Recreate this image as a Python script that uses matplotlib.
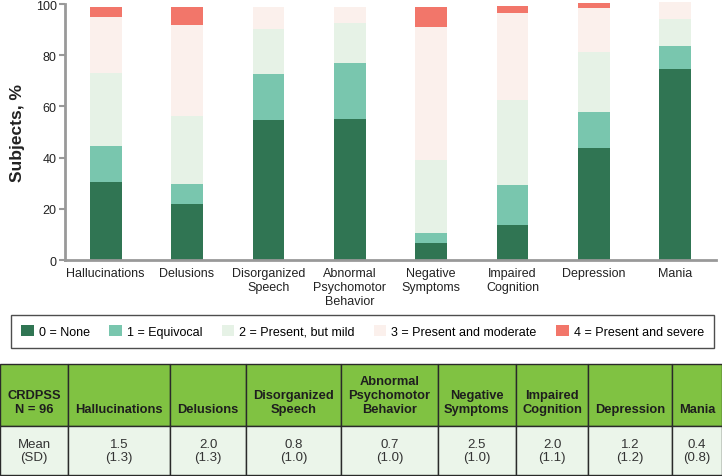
import numpy as np
import matplotlib
matplotlib.use("Agg")
import matplotlib.pyplot as plt
from matplotlib.patches import Patch

plt.rcParams['font.family'] = ['Liberation Sans', 'DejaVu Sans']

# Data
categories = ["Hallucinations", "Delusions", "Disorganized\nSpeech",
              "Abnormal\nPsychomotor\nBehavior", "Negative\nSymptoms",
              "Impaired\nCognition", "Depression", "Mania"]
score_labels = ["0 = None", "1 = Equivocal", "2 = Present, but mild",
                "3 = Present and moderate", "4 = Present and severe"]
none_pct = [30.6, 22.0, 54.7, 55.1, 6.6, 13.7, 43.8, 74.6]
equivocal_pct = [13.9, 7.7, 17.8, 21.9, 3.9, 15.6, 14.1, 9.0]
mild_pct = [28.5, 26.4, 17.6, 15.6, 28.6, 33.2, 23.4, 10.5]
moderate_pct = [21.9, 35.7, 8.7, 6.2, 51.9, 34.0, 17.2, 6.7]
severe_pct = [3.9, 7.0, 0.0, 0.0, 7.8, 2.7, 2.0, 0.0]

table_header = ["CRDPSS\nN = 96", "Hallucinations", "Delusions",
                "Disorganized\nSpeech", "Abnormal\nPsychomotor\nBehavior",
                "Negative\nSymptoms", "Impaired\nCognition", "Depression", "Mania"]
table_means = ["1.5", "2.0", "0.8", "0.7", "2.5", "2.0", "1.2", "0.4"]
table_sds = ["1.3", "1.3", "1.0", "1.0", "1.0", "1.1", "1.2", "0.8"]

colors = ["#307553", "#79C6AE", "#E6F2E6", "#FBF0EC", "#F2766A"]

fig = plt.figure(figsize=(7.22, 4.77), dpi=100)
W, H = 722, 477

# --- stacked bar chart ---
ax = fig.add_axes([65 / W, (H - 261) / H, 651 / W, 256 / H])
x = np.arange(len(categories))
bottom = np.zeros(len(categories))
series = [none_pct, equivocal_pct, mild_pct, moderate_pct, severe_pct]
for vals, col in zip(series, colors):
    ax.bar(x, vals, bottom=bottom, width=0.39, color=col, clip_on=False, zorder=2)
    bottom += np.array(vals)

ax.set_xlim(-0.5, 7.5)
ax.set_ylim(0, 100)
ax.set_yticks(range(0, 101, 20))
ax.set_xticks(x)
ax.set_xticklabels(categories, fontsize=9, color="#222222", linespacing=1.25)
ax.tick_params(axis="x", length=0, pad=5)
ax.tick_params(axis="y", length=4, width=1.5, color="#999999", labelsize=9,
               labelcolor="#222222", pad=2)
for s in ["top", "right"]:
    ax.spines[s].set_visible(False)
for s in ["left", "bottom"]:
    ax.spines[s].set_color("#999999")
    ax.spines[s].set_linewidth(2)
    ax.spines[s].set_zorder(3)
ax.set_ylabel("Subjects, %", fontsize=12.5, fontweight="bold", color="#222222", labelpad=8)

# --- legend ---
handles = [Patch(facecolor=c, edgecolor="none") for c in colors]
leg = fig.legend(handles, score_labels, ncol=5, loc="center",
                 bbox_to_anchor=(362.5 / W, (H - 332.5) / H), fontsize=9,
                 frameon=True, fancybox=False, edgecolor="#222222",
                 handlelength=1.0, handleheight=0.9, handletextpad=0.4,
                 columnspacing=1.55, borderpad=0.8, borderaxespad=0)
leg.get_frame().set_linewidth(1.0)

# --- summary table ---
tax = fig.add_axes([0, 1 / H, 1, 111 / H])
tax.axis("off")
n_lines = 3
header_cells = ["\n" * (n_lines - 1 - h.count("\n")) + h for h in table_header]
data_cells = ["Mean\n(SD)"] + [f"{m}\n({s})" for m, s in zip(table_means, table_sds)]
col_px = [68, 102, 75.6, 95.4, 96, 78, 72.5, 83.5, 50]
col_w = [c / sum(col_px) for c in col_px]
tbl = tax.table(cellText=[data_cells], colLabels=header_cells, colWidths=col_w,
                cellLoc="center", bbox=[0, 0, 1, 1])
tbl.auto_set_font_size(False)
for (r, c), cell in tbl.get_celld().items():
    cell.set_edgecolor("#2A2A2A")
    cell.set_linewidth(1.0)
    txt = cell.get_text()
    txt.set_linespacing(1.22)
    if r == 0:
        cell.set_height(62)
        cell.set_facecolor("#80C242")
        txt.set_fontweight("bold")
        txt.set_fontsize(9.3)
        txt.set_color("#1E1E1E")
    else:
        cell.set_height(49)
        cell.set_facecolor("#EBF5EA")
        txt.set_fontsize(9.5)
        txt.set_color("#333333")

fig.savefig("out.png", dpi=100)
